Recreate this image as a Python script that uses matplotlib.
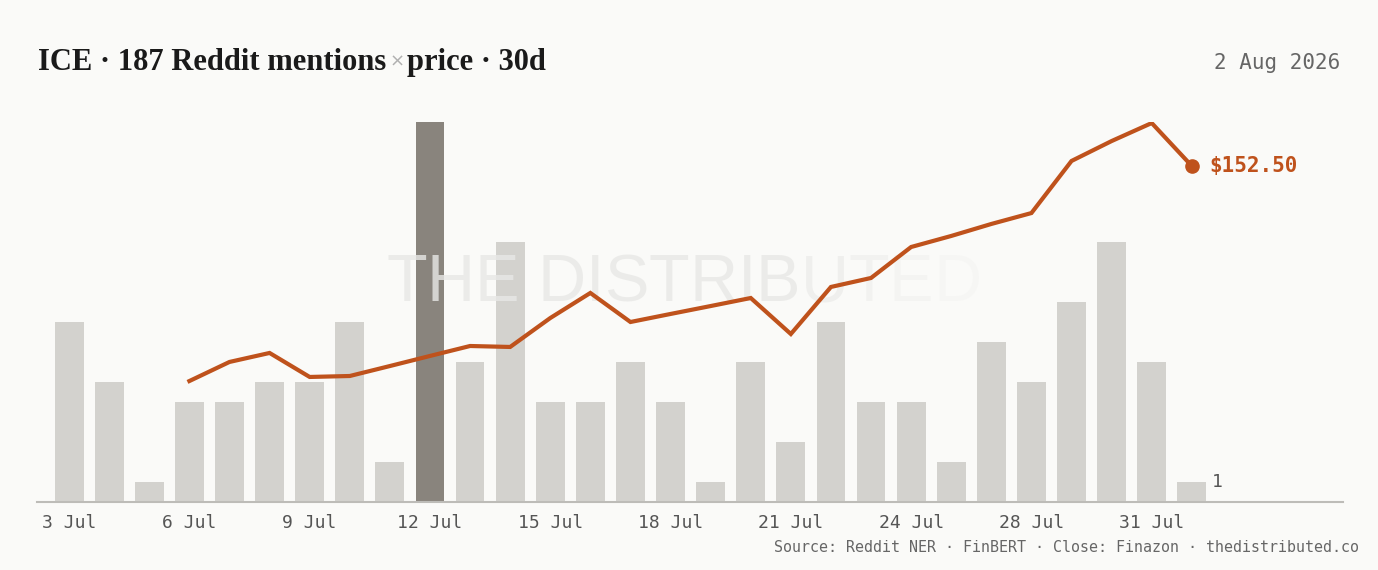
import matplotlib
matplotlib.use("Agg")
import matplotlib.pyplot as plt
import numpy as np

# ---- data ----
dates = ["3 Jul", "4 Jul", "5 Jul", "6 Jul", "7 Jul", "8 Jul", "9 Jul", "10 Jul",
         "11 Jul", "12 Jul", "13 Jul", "14 Jul", "15 Jul", "16 Jul", "17 Jul",
         "18 Jul", "19 Jul", "20 Jul", "21 Jul", "22 Jul", "23 Jul", "24 Jul",
         "25 Jul", "26 Jul", "28 Jul", "29 Jul", "30 Jul", "31 Jul", "1 Aug"]
mentions = [9, 6, 1, 5, 5, 6, 6, 9, 2, 19, 7, 13, 5, 5, 7, 5, 1, 7, 3, 9,
            5, 5, 2, 8, 6, 10, 13, 7, 1]
price_start = 3  # price series begins at 6 Jul
prices = [134.58, 136.17, 136.92, 134.92, 135.00, 135.83, 136.67, 137.50,
          137.42, 139.83, 141.92, 139.50, 140.17, 140.83, 141.50, 138.50,
          142.42, 143.17, 145.75, 146.67, 147.67, 148.58, 152.92, 154.58,
          156.08, 152.50]
tick_idx = [0, 3, 6, 9, 12, 15, 18, 21, 24, 27]
title_main = "ICE · 187 Reddit mentions"
title_x = "×"
title_end = "price · 30d"
date_label = "2 Aug 2026"
source = "Source: Reddit NER · FinBERT · Close: Finazon · thedistributed.co"
watermark = "THE DISTRIBUTED"

# ---- style ----
BG = "#fafaf8"
BAR = "#d3d2ce"
BAR_HI = "#89847d"
LINE = "#bf521c"
MONO = "DejaVu Sans Mono"

W, H = 1378, 570
fig = plt.figure(figsize=(W / 100, H / 100), dpi=100, facecolor=BG)

left, right, bottom, top = 37, 1343, 502, 122
ax = fig.add_axes([left / W, (H - bottom) / H, (right - left) / W, (bottom - top) / H])
ax.set_facecolor("none")
x = np.arange(len(mentions))
imax = int(np.argmax(mentions))
colors = [BAR_HI if i == imax else BAR for i in range(len(mentions))]
ax.bar(x, mentions, width=0.72, color=colors, zorder=2)
ax.set_xlim(-0.8, 31.77)
ax.set_ylim(0, max(mentions))
for s in ["top", "right", "left"]:
    ax.spines[s].set_visible(False)
ax.spines["bottom"].set_color("#bdbcb8")
ax.spines["bottom"].set_linewidth(1.5)
ax.set_yticks([])
ax.set_xticks(tick_idx)
ax.set_xticklabels([dates[i] for i in tick_idx], fontfamily=MONO, fontsize=13, color="#555555")
ax.tick_params(axis="x", length=0, pad=9)

# last-bar value label
ax.text(len(mentions) - 1 + 0.5, mentions[-1], str(mentions[-1]), fontfamily=MONO,
        fontsize=13, color="#555555", va="center", ha="left")

# price line
ax2 = ax.twinx()
ax2.set_facecolor("none")
px = np.arange(price_start, price_start + len(prices))
ax2.plot(px, prices, color=LINE, lw=3, solid_joinstyle="miter", zorder=4)
ax2.plot(px[-1], prices[-1], "o", color=LINE, ms=9.5, zorder=5)
ax2.set_ylim(124.5, 156.1667)
ax2.axis("off")
ax2.text(px[-1] + 0.45, prices[-1], f"${prices[-1]:.2f}", fontfamily=MONO, fontsize=15,
         fontweight="bold", color=LINE, va="center", ha="left")

fig.canvas.draw()
r = fig.canvas.get_renderer()

# watermark (in the bar axes, so the price line stays on top), fading to the right
wm_kw = dict(fontfamily="Liberation Sans", fontsize=48, va="center", ha="left",
             transform=fig.transFigure)
wm_x0, wm_y = 386 / W, (H - 284) / H
n = len(watermark)
fade = [0.8] * (n - 4) + [0.6, 0.42, 0.28, 0.18]
for i, ch in enumerate(watermark):
    if ch == " ":
        continue
    if i > 0:
        tmp = ax.text(wm_x0, wm_y, watermark[:i] + "|", **wm_kw)
        bar_w = ax.text(wm_x0, wm_y, "|", **wm_kw)
        w_pref = tmp.get_window_extent(r).width - bar_w.get_window_extent(r).width
        tmp.remove(); bar_w.remove()
    else:
        w_pref = 0
    ax.text(wm_x0 + w_pref / W, wm_y, ch, color="#e8e8e6", alpha=fade[i], zorder=3, **wm_kw)

# title
ty = (H - 70) / H
t1 = fig.text(38 / W, ty, title_main, fontfamily="Liberation Serif", fontweight="bold",
              fontsize=22, color="#1a1a1a", va="baseline", ha="left")
bb = t1.get_window_extent(r)
t2 = fig.text((bb.x1 + 3) / W, ty + 3 / H, title_x, fontfamily="DejaVu Sans", fontsize=13,
              color="#b0b0b0", va="baseline", ha="left")
bb2 = t2.get_window_extent(r)
fig.text((bb2.x1 + 3) / W, ty, title_end, fontfamily="Liberation Serif", fontweight="bold",
         fontsize=22, color="#1a1a1a", va="baseline", ha="left")

fig.text(1340 / W, (H - 63) / H, date_label, fontfamily=MONO, fontsize=15,
         color="#666666", ha="right", va="center")
fig.text(1359 / W, (H - 548) / H, source, fontfamily=MONO, fontsize=10.8,
         color="#666666", ha="right", va="center")

fig.savefig("out.png", dpi=100, facecolor=BG)
